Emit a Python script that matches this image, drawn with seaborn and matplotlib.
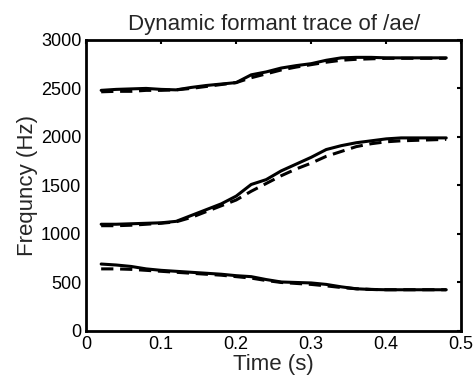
import numpy as np
import pandas as pd
import matplotlib
matplotlib.use("Agg")
import matplotlib.pyplot as plt
import seaborn as sns

# time points (s)
time = [0.02, 0.04, 0.06, 0.08, 0.10, 0.12, 0.14, 0.16, 0.18, 0.20, 0.22, 0.24,
        0.26, 0.28, 0.30, 0.32, 0.34, 0.36, 0.38, 0.40, 0.42, 0.44, 0.46, 0.48]

# measured formants (solid)
f1_meas = [690, 680, 665, 640, 625, 615, 605, 595, 585, 570, 560, 530,
           505, 500, 495, 480, 455, 435, 428, 425, 425, 425, 425, 425]
f2_meas = [1100, 1100, 1105, 1110, 1115, 1130, 1190, 1250, 1310, 1390, 1510, 1560,
           1650, 1720, 1790, 1870, 1910, 1940, 1960, 1980, 1990, 1990, 1990, 1990]
f3_meas = [2480, 2490, 2495, 2500, 2490, 2485, 2510, 2530, 2545, 2560, 2640, 2670,
           2710, 2735, 2755, 2790, 2815, 2820, 2820, 2815, 2815, 2815, 2815, 2815]

# model formants (dashed)
f1_model = [640, 640, 635, 625, 615, 605, 595, 585, 575, 560, 545, 520,
            500, 490, 480, 465, 448, 435, 428, 425, 425, 425, 425, 425]
f2_model = [1085, 1085, 1090, 1100, 1110, 1125, 1170, 1230, 1290, 1350, 1440, 1520,
            1600, 1670, 1730, 1800, 1850, 1900, 1930, 1950, 1960, 1965, 1970, 1975]
f3_model = [2465, 2470, 2470, 2480, 2480, 2485, 2500, 2520, 2540, 2560, 2610, 2650,
            2690, 2720, 2745, 2770, 2790, 2800, 2805, 2810, 2810, 2810, 2810, 2810]

sns.set_style("white")
plt.rcParams['font.family'] = ['Liberation Sans', 'DejaVu Sans']

fig = plt.figure(figsize=(4.76, 3.8), dpi=100)
ax = fig.add_axes([0.181, 0.129, 0.788, 0.766])

for f in [f1_meas, f2_meas, f3_meas]:
    sns.lineplot(x=time, y=f, ax=ax, color='black', linewidth=2.2)
for f in [f1_model, f2_model, f3_model]:
    sns.lineplot(x=time, y=f, ax=ax, color='black', linewidth=2.2,
                 linestyle=(0, (4, 2.2)))

ax.set_xlim(0, 0.5)
ax.set_ylim(0, 3000)
ax.set_xticks([0, 0.1, 0.2, 0.3, 0.4, 0.5])
ax.set_xticklabels(['0', '0.1', '0.2', '0.3', '0.4', '0.5'])
ax.set_yticks([0, 500, 1000, 1500, 2000, 2500, 3000])

ax.tick_params(direction='in', length=3, width=1.5, top=True, right=True,
               labelsize=13, colors='black', pad=3.5)
for s in ax.spines.values():
    s.set_linewidth(2)
    s.set_color('black')

ax.set_title('Dynamic formant trace of /ae/', fontsize=16, pad=7)
ax.set_xlabel('Time (s)', fontsize=16, labelpad=1)
ax.set_ylabel('Frequncy (Hz)', fontsize=16, labelpad=2)

plt.savefig('out.png', dpi=100)
